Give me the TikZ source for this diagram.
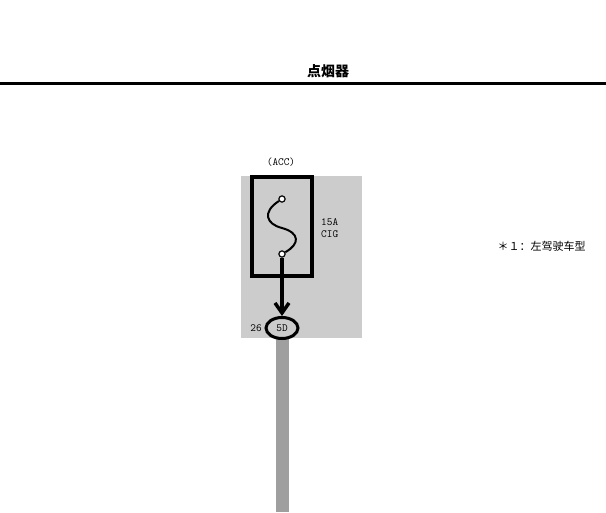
\documentclass[tikz,border=0pt]{standalone}
\usepackage{fontspec}
\newfontfamily\cjk{Noto Sans CJK SC}
\usetikzlibrary{arrows.meta,shapes.geometric}
\tikzset{
  lbl/.style={font=\fontsize{11}{12}\selectfont\ttfamily, inner sep=0pt},
  frame/.style={line width=3.5pt},
}
\begin{document}
\begin{tikzpicture}[x=1pt,y=-1pt]
\useasboundingbox (0,0) rectangle (606,513);
% title
\node[font=\cjk\bfseries\fontsize{14}{15}\selectfont] (title) at (328,71) {点烟器};
\draw[line width=3pt] (0,84) -- (606,84);
% gray field
\fill[gray!40] (241,176) rectangle (362,338);
\fill[gray!75] (276,338) rectangle (289,512);
% fuse
\draw[frame] (252,177) rectangle (312,276);
\node[lbl] (acc) at (281,162) {(ACC)};
\node[lbl, align=left, anchor=west] (amp) at (321,228) {15A\\CIG};
\node[draw, circle, line width=1.2pt, inner sep=2.2pt, fill=white] (t1) at (282,199) {};
\node[draw, circle, line width=1.2pt, inner sep=2.2pt, fill=white] (t2) at (282,254) {};
\draw[line width=2pt] (t1) .. controls (262,212) and (266,224) .. (282,228)
  .. controls (300,233) and (300,244) .. (t2);
% connector
\node[draw, ellipse, line width=3pt, minimum width=32pt, minimum height=21pt, inner sep=0pt, lbl] (pin) at (282,328) {5D};
\node[lbl] (num) at (256,328) {26};
\draw[line width=3.5pt, -{Straight Barb[length=10pt,width=14pt]}] (t2) -- (pin.north);
% note
\node[font=\cjk\fontsize{11}{12}\selectfont, anchor=west] (note) at (494,246) {＊１：左驾驶车型};
\end{tikzpicture}
\end{document}
